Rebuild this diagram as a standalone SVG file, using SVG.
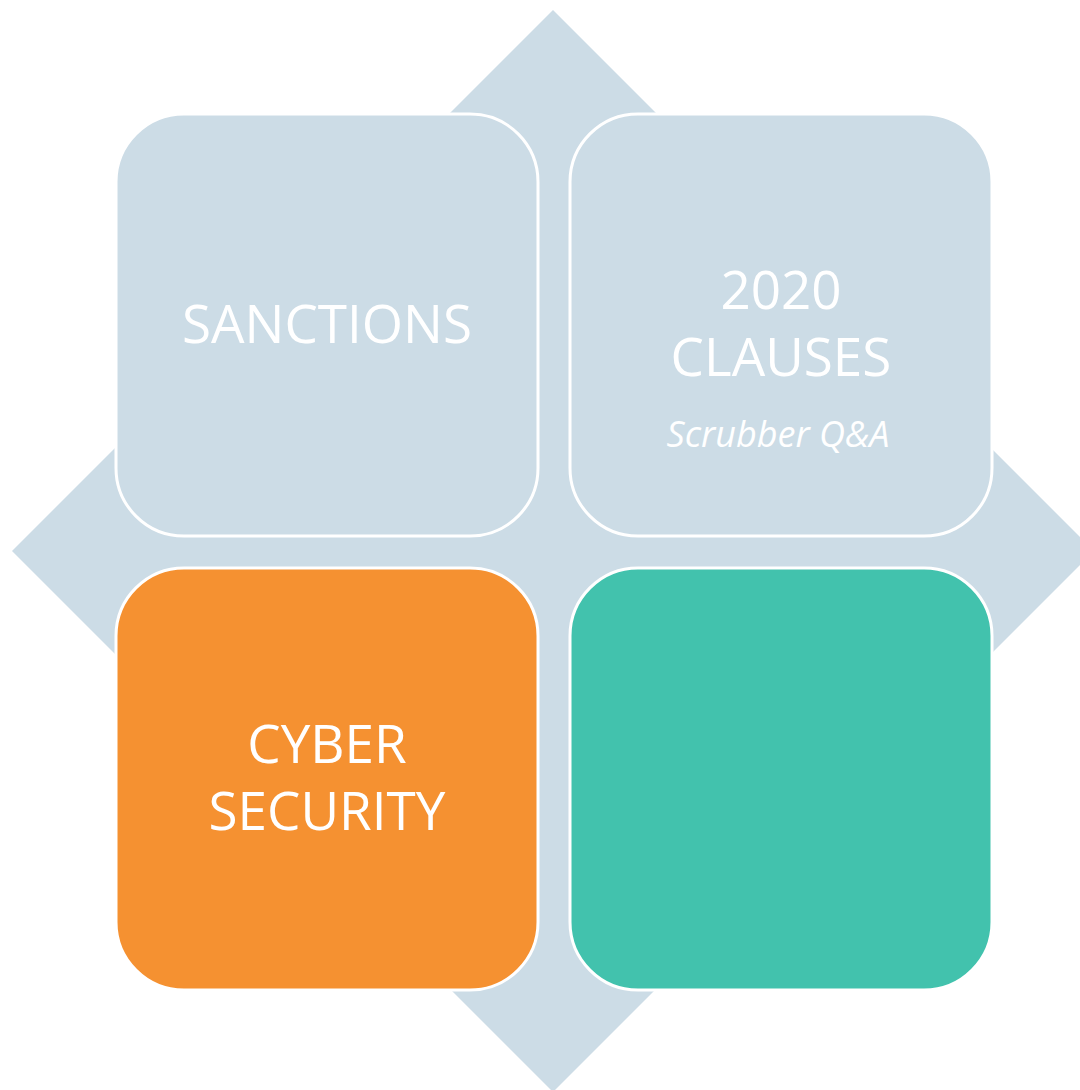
<svg xmlns="http://www.w3.org/2000/svg" width="1080" height="1090" viewBox="0 0 1080 1090">
<style>
.box{stroke:#ffffff;stroke-width:3}
.t{font-family:"Open Sans","Liberation Sans",sans-serif;fill:#ffffff;text-anchor:middle;font-size:53px}
.s{font-family:"Open Sans","Liberation Sans",sans-serif;fill:#ffffff;text-anchor:middle;font-size:36px;font-style:italic}
</style>
<rect width="1080" height="1090" fill="#ffffff"/>
<polygon id="diamond" points="553,10 1094,551 553,1092 12,551" fill="#CCDCE6"/>
<g id="sanctions">
<rect class="box" x="116" y="114" width="422" height="422" rx="68" fill="#CCDCE6"/>
<text class="t" x="327" y="343">SANCTIONS</text>
</g>
<g id="clauses">
<rect class="box" x="570" y="114" width="422" height="422" rx="68" fill="#CCDCE6"/>
<text class="t" x="781" y="309">2020</text>
<text class="t" x="781" y="376">CLAUSES</text>
<text class="s" x="778" y="447">Scrubber Q&amp;A</text>
</g>
<g id="cyber">
<rect class="box" x="116" y="568" width="422" height="422" rx="68" fill="#F59131"/>
<text class="t" x="327" y="763">CYBER</text>
<text class="t" x="327" y="830">SECURITY</text>
</g>
<g id="teal">
<rect class="box" x="570" y="568" width="422" height="422" rx="68" fill="#42C2AD"/>
</g>
<g id="connectors"/>
</svg>
